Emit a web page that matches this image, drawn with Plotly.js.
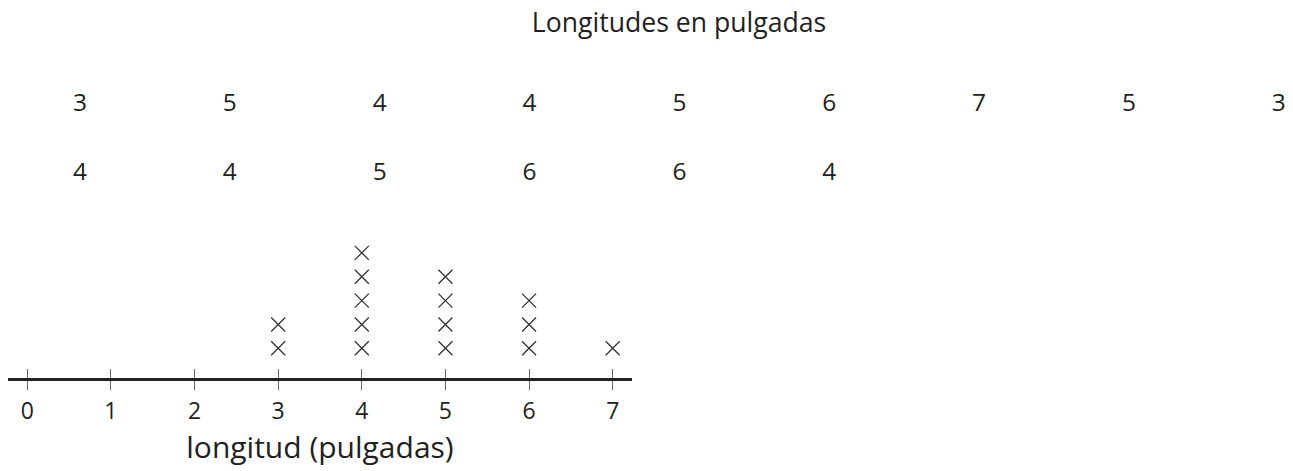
<!DOCTYPE html>
<html>
<head>
<meta charset="utf-8">
<script src="https://cdn.plot.ly/plotly-3.0.1.min.js"></script>
<style>html,body{margin:0;padding:0;background:#fff;}#chart{width:1293px;height:471px;}</style>
</head>
<body>
<div id="chart"></div>
<script>
// ---- data ----
const chartTitle = "Longitudes en pulgadas";
const axisTitle = "longitud (pulgadas)";
const tableRow1 = [3, 5, 4, 4, 5, 6, 7, 5, 3];
const tableRow2 = [4, 4, 5, 6, 6, 4];
const tickValues = [0, 1, 2, 3, 4, 5, 6, 7];
const tickLabels = ["0", "1", "2", "3", "4", "5", "6", "7"];

// all measured lengths
const lengths = tableRow1.concat(tableRow2);

// stack the dot plot marks: each repeat of a value goes one level higher
const dotX = [], dotY = [];
const seen = {};
lengths.slice().sort((a, b) => a - b).forEach(v => {
  seen[v] = (seen[v] || 0) + 1;
  dotX.push(v);
  dotY.push(seen[v]);
});

// table cells
const cellX = [], cellY = [], cellText = [];
[tableRow1, tableRow2].forEach((row, r) => {
  row.forEach((v, c) => { cellX.push(c); cellY.push(r); cellText.push(String(v)); });
});

const W = 1293, H = 471;
const FONT = "Open Sans, sans-serif";
const INK = "#231f20";

const dots = {
  type: "scatter", mode: "markers", x: dotX, y: dotY, xaxis: "x", yaxis: "y",
  marker: { symbol: "x-thin", size: 14, line: { width: 1.3, color: "#333" }, color: "#333" },
  hoverinfo: "skip", showlegend: false
};
const tickHelper = {
  type: "scatter", mode: "markers", x: tickValues, y: tickValues.map(() => 0),
  xaxis: "x2", yaxis: "y", marker: { opacity: 0 }, hoverinfo: "skip", showlegend: false
};
const table = {
  type: "scatter", mode: "text", x: cellX, y: cellY, text: cellText,
  xaxis: "x3", yaxis: "y3", textposition: "middle center",
  textfont: { family: FONT, size: 24.5, color: INK },
  hoverinfo: "skip", showlegend: false
};

const xDom = [8 / W, 632 / W];
const xRange = [-0.2308, 7.2307];

const layout = {
  width: W, height: H,
  margin: { l: 0, r: 0, t: 0, b: 0 },
  paper_bgcolor: "#fff", plot_bgcolor: "rgba(0,0,0,0)",
  font: { family: FONT, color: INK },
  title: {
    text: chartTitle, font: { family: FONT, size: 26.6, color: INK },
    x: 679 / W, xanchor: "center", xref: "paper",
    y: 1 - 22.5 / H, yref: "container", yanchor: "middle"
  },
  xaxis: {
    domain: xDom, range: xRange, anchor: "y",
    showline: true, linewidth: 3, linecolor: "#222",
    showgrid: false, zeroline: false,
    ticks: "outside", ticklen: 9, tickwidth: 1, tickcolor: "#666",
    tickmode: "array", tickvals: tickValues, ticktext: tickLabels,
    tickfont: { family: FONT, size: 23, color: INK },
    ticklabelstandoff: 2,
    title: { text: axisTitle, font: { family: FONT, size: 30, color: INK }, standoff: 11 },
    fixedrange: true
  },
  xaxis2: {
    overlaying: "x", anchor: "y", side: "bottom", range: xRange,
    showline: false, showgrid: false, zeroline: false,
    ticks: "inside", ticklen: 9, tickwidth: 1, tickcolor: "#666",
    tickmode: "array", tickvals: tickValues, showticklabels: false,
    fixedrange: true
  },
  yaxis: {
    domain: [(H - 377.5) / H, (H - 230) / H], range: [-0.222, 5.958],
    visible: false, showgrid: false, zeroline: false, fixedrange: true
  },
  xaxis3: {
    domain: [0, 1], range: [-80 / 149.85, (W - 80) / 149.85], anchor: "y3",
    visible: false, showgrid: false, zeroline: false, fixedrange: true
  },
  yaxis3: {
    domain: [0.5, 1], range: [(235.5 - 104.5) / 69.5, -104.5 / 69.5], anchor: "x3",
    visible: false, showgrid: false, zeroline: false, fixedrange: true
  },
  showlegend: false
};

Plotly.newPlot("chart", [dots, tickHelper, table], layout, { displayModeBar: false, staticPlot: true });
</script>
</body>
</html>
